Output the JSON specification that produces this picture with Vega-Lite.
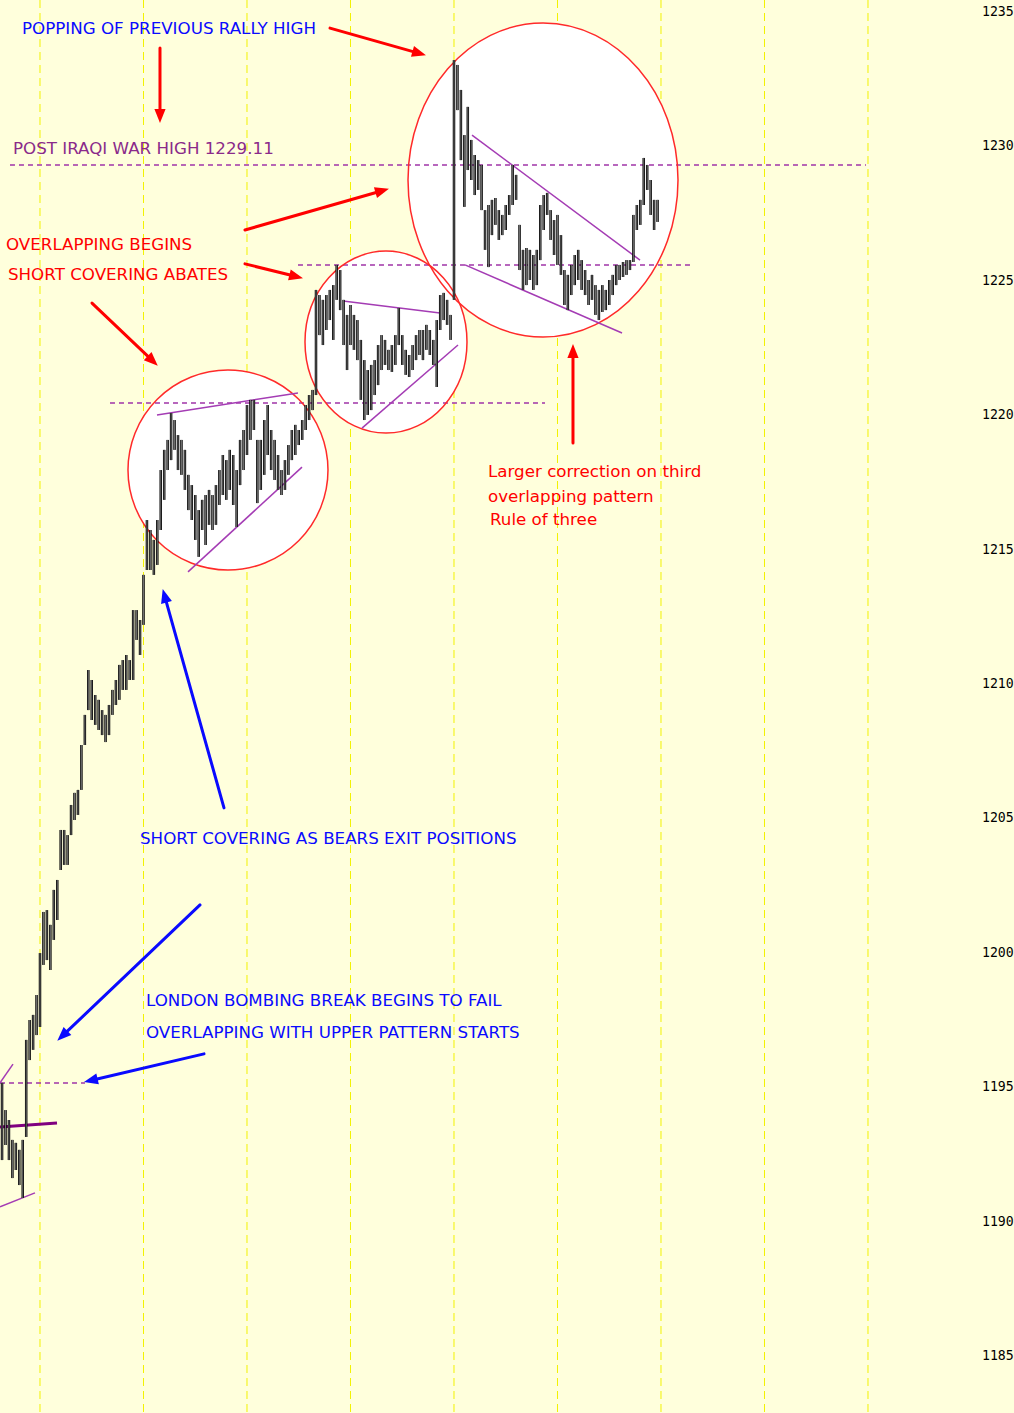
{
  "$schema": "https://vega.github.io/schema/vega-lite/v6.json",
  "width": 1014,
  "height": 1413,
  "autosize": "none",
  "padding": 0,
  "background": "#ffffdc",
  "config": {"view": {"stroke": null}},
  "datasets": {
    "bars": [
      {"i":-11,"h":1195.16,"l":1192.29},{"i":-10,"h":1194.15,"l":1192.85},{"i":-9,"h":1193.78,"l":1192.29},{"i":-8,"h":1193.04,"l":1191.62},
      {"i":-7,"h":1192.93,"l":1191.92},{"i":-6,"h":1192.67,"l":1191.36},{"i":-5,"h":1193.04,"l":1190.88},{"i":-4,"h":1196.76,"l":1193.15},
      {"i":-3,"h":1197.50,"l":1196.01},{"i":-2,"h":1197.69,"l":1196.39},{"i":-1,"h":1198.43,"l":1196.94},{"i":0,"h":1199.99,"l":1197.24},
      {"i":1,"h":1201.52,"l":1199.55},{"i":2,"h":1201.59,"l":1199.73},{"i":3,"h":1201.04,"l":1199.36},{"i":4,"h":1202.34,"l":1200.48},
      {"i":5,"h":1202.71,"l":1201.22},{"i":6,"h":1204.57,"l":1203.08},{"i":7,"h":1204.57,"l":1203.27},{"i":8,"h":1204.38,"l":1203.27},
      {"i":9,"h":1205.50,"l":1204.38},{"i":10,"h":1205.95,"l":1204.94},{"i":11,"h":1206.06,"l":1205.13},{"i":12,"h":1207.73,"l":1206.06},
      {"i":13,"h":1208.85,"l":1207.73},{"i":14,"h":1210.52,"l":1209.03},{"i":15,"h":1210.15,"l":1208.66},{"i":16,"h":1209.59,"l":1208.48},
      {"i":17,"h":1209.41,"l":1208.29},{"i":18,"h":1209.03,"l":1208.10},{"i":19,"h":1208.85,"l":1207.84},{"i":20,"h":1209.22,"l":1208.10},
      {"i":21,"h":1209.78,"l":1208.85},{"i":22,"h":1210.15,"l":1209.22},{"i":23,"h":1210.71,"l":1209.41},{"i":24,"h":1210.89,"l":1209.78},
      {"i":25,"h":1211.08,"l":1209.78},{"i":26,"h":1210.89,"l":1210.15},{"i":27,"h":1212.75,"l":1210.15},{"i":28,"h":1212.75,"l":1211.64},
      {"i":29,"h":1212.38,"l":1211.08},{"i":30,"h":1214.06,"l":1212.20},{"i":31,"h":1216.10,"l":1214.24},{"i":32,"h":1215.73,"l":1214.24},
      {"i":33,"h":1215.36,"l":1214.06},{"i":34,"h":1216.10,"l":1214.43},{"i":35,"h":1217.96,"l":1215.73},{"i":36,"h":1218.71,"l":1216.85},
      {"i":37,"h":1219.08,"l":1217.96},{"i":38,"h":1220.08,"l":1218.33},{"i":39,"h":1219.82,"l":1218.71},{"i":40,"h":1219.26,"l":1217.96},
      {"i":41,"h":1219.08,"l":1217.78},{"i":42,"h":1218.71,"l":1217.22},{"i":43,"h":1217.78,"l":1216.47},{"i":44,"h":1217.40,"l":1216.10},
      {"i":45,"h":1217.03,"l":1215.36},{"i":46,"h":1216.47,"l":1214.73},{"i":47,"h":1216.85,"l":1215.73},{"i":48,"h":1217.03,"l":1215.17},
      {"i":49,"h":1217.22,"l":1215.92},{"i":50,"h":1217.03,"l":1215.73},{"i":51,"h":1217.40,"l":1215.92},{"i":52,"h":1217.96,"l":1216.66},
      {"i":53,"h":1218.52,"l":1217.03},{"i":54,"h":1218.33,"l":1216.85},{"i":55,"h":1218.71,"l":1217.22},{"i":56,"h":1218.52,"l":1216.66},
      {"i":57,"h":1217.96,"l":1215.84},{"i":58,"h":1219.08,"l":1217.40},{"i":59,"h":1219.45,"l":1217.96},{"i":60,"h":1220.38,"l":1218.52},
      {"i":61,"h":1220.57,"l":1219.08},{"i":62,"h":1220.57,"l":1219.45},{"i":63,"h":1219.08,"l":1216.73},{"i":64,"h":1219.08,"l":1217.22},
      {"i":65,"h":1219.82,"l":1217.78},{"i":66,"h":1220.38,"l":1218.52},{"i":67,"h":1219.45,"l":1217.96},{"i":68,"h":1219.08,"l":1217.59},
      {"i":69,"h":1218.52,"l":1217.22},{"i":70,"h":1217.96,"l":1217.03},{"i":71,"h":1218.33,"l":1217.22},{"i":72,"h":1218.89,"l":1217.78},
      {"i":73,"h":1219.45,"l":1218.33},{"i":74,"h":1219.64,"l":1218.52},{"i":75,"h":1219.45,"l":1218.89},{"i":76,"h":1219.82,"l":1219.08},
      {"i":77,"h":1220.38,"l":1219.45},{"i":78,"h":1220.75,"l":1219.82},{"i":79,"h":1220.94,"l":1220.19},{"i":80,"h":1224.66,"l":1220.75},
      {"i":81,"h":1224.47,"l":1222.98},{"i":82,"h":1224.29,"l":1222.61},{"i":83,"h":1224.47,"l":1223.17},{"i":84,"h":1224.66,"l":1223.54},
      {"i":85,"h":1224.84,"l":1222.80},{"i":86,"h":1225.59,"l":1224.29},{"i":87,"h":1225.40,"l":1223.91},{"i":88,"h":1224.29,"l":1222.61},
      {"i":89,"h":1223.73,"l":1221.68},{"i":90,"h":1224.10,"l":1222.61},{"i":91,"h":1223.73,"l":1222.43},{"i":92,"h":1223.54,"l":1222.05},
      {"i":93,"h":1222.80,"l":1220.57},{"i":94,"h":1222.05,"l":1219.82},{"i":95,"h":1221.68,"l":1220.01},{"i":96,"h":1221.87,"l":1220.19},
      {"i":97,"h":1222.05,"l":1220.75},{"i":98,"h":1222.61,"l":1221.12},{"i":99,"h":1222.98,"l":1221.68},{"i":100,"h":1222.80,"l":1221.87},
      {"i":101,"h":1222.43,"l":1221.68},{"i":102,"h":1222.61,"l":1221.61},{"i":103,"h":1222.98,"l":1221.87},{"i":104,"h":1223.99,"l":1222.61},
      {"i":105,"h":1222.98,"l":1221.87},{"i":106,"h":1222.43,"l":1221.50},{"i":107,"h":1222.24,"l":1221.42},{"i":108,"h":1222.61,"l":1221.68},
      {"i":109,"h":1222.98,"l":1222.05},{"i":110,"h":1223.17,"l":1222.24},{"i":111,"h":1223.17,"l":1222.05},{"i":112,"h":1223.36,"l":1222.43},
      {"i":113,"h":1223.17,"l":1222.24},{"i":114,"h":1222.80,"l":1221.87},{"i":115,"h":1223.54,"l":1221.05},{"i":116,"h":1224.47,"l":1223.17},
      {"i":117,"h":1224.55,"l":1223.54},{"i":118,"h":1224.29,"l":1223.36},{"i":119,"h":1223.73,"l":1222.80},{"i":120,"h":1233.21,"l":1224.29},
      {"i":121,"h":1233.03,"l":1231.35},{"i":122,"h":1232.10,"l":1229.49},{"i":123,"h":1230.42,"l":1227.75},{"i":124,"h":1231.47,"l":1229.12},
      {"i":125,"h":1230.24,"l":1228.75},{"i":126,"h":1229.68,"l":1228.19},{"i":127,"h":1229.49,"l":1228.38},{"i":128,"h":1229.31,"l":1227.63},
      {"i":129,"h":1227.63,"l":1226.15},{"i":130,"h":1227.82,"l":1225.51},{"i":131,"h":1228.01,"l":1226.70},{"i":132,"h":1228.08,"l":1227.08},
      {"i":133,"h":1227.63,"l":1226.52},{"i":134,"h":1227.45,"l":1226.70},{"i":135,"h":1227.82,"l":1226.89},{"i":136,"h":1228.19,"l":1227.45},
      {"i":137,"h":1229.31,"l":1227.82},{"i":138,"h":1228.94,"l":1228.01},{"i":139,"h":1227.08,"l":1225.40},{"i":140,"h":1226.15,"l":1224.66},
      {"i":141,"h":1226.22,"l":1224.84},{"i":142,"h":1226.15,"l":1225.03},{"i":143,"h":1225.96,"l":1224.66},{"i":144,"h":1226.15,"l":1224.84},
      {"i":145,"h":1227.82,"l":1225.77},{"i":146,"h":1228.19,"l":1226.89},{"i":147,"h":1228.27,"l":1227.45},{"i":148,"h":1227.63,"l":1226.52},
      {"i":149,"h":1227.26,"l":1225.96},{"i":150,"h":1227.45,"l":1225.59},{"i":151,"h":1226.70,"l":1225.22},{"i":152,"h":1225.40,"l":1224.10},
      {"i":153,"h":1225.22,"l":1223.91},{"i":154,"h":1225.59,"l":1224.47},{"i":155,"h":1225.96,"l":1224.84},{"i":156,"h":1226.15,"l":1225.03},
      {"i":157,"h":1225.77,"l":1224.66},{"i":158,"h":1225.40,"l":1224.47},{"i":159,"h":1225.03,"l":1224.10},{"i":160,"h":1225.22,"l":1224.29},
      {"i":161,"h":1224.84,"l":1223.73},{"i":162,"h":1224.66,"l":1223.54},{"i":163,"h":1224.84,"l":1223.84},{"i":164,"h":1224.66,"l":1223.91},
      {"i":165,"h":1225.03,"l":1224.10},{"i":166,"h":1225.22,"l":1224.47},{"i":167,"h":1225.59,"l":1224.84},{"i":168,"h":1225.59,"l":1225.03},
      {"i":169,"h":1225.70,"l":1225.14},{"i":170,"h":1225.77,"l":1225.22},{"i":171,"h":1225.77,"l":1225.40},{"i":172,"h":1227.45,"l":1225.70},
      {"i":173,"h":1227.82,"l":1226.89},{"i":174,"h":1228.01,"l":1227.08},{"i":175,"h":1229.57,"l":1227.82},{"i":176,"h":1229.31,"l":1228.38},
      {"i":177,"h":1228.75,"l":1227.45},{"i":178,"h":1228.01,"l":1226.89},{"i":179,"h":1228.01,"l":1227.19}
    ],
    "grid": [{"i":0},{"i":30},{"i":60},{"i":90},{"i":120},{"i":150},{"i":180},{"i":210},{"i":240}],
    "priceTicks": [{"v":1185},{"v":1190},{"v":1195},{"v":1200},{"v":1205},{"v":1210},{"v":1215},{"v":1220},{"v":1225},{"v":1230},{"v":1235}],
    "levels": [
      {"i":-8.7,"i2":239.4,"p":1229.31},
      {"i":74.78,"i2":188.99,"p":1225.59},
      {"i":20.29,"i2":146.38,"p":1220.45},
      {"i":-11.59,"i2":13.04,"p":1195.16}
    ],
    "trends": [
      {"i":-11.59,"p":1190.55,"i2":-1.45,"p2":1191.07},
      {"i":-11.59,"p":1195.16,"i2":-7.83,"p2":1195.86},
      {"i":33.91,"p":1220.01,"i2":74.78,"p2":1220.83},
      {"i":42.9,"p":1214.17,"i2":75.94,"p2":1218.07},
      {"i":87.83,"p":1224.25,"i2":115.94,"p2":1223.80},
      {"i":93.33,"p":1219.52,"i2":121.16,"p2":1222.61},
      {"i":125.22,"p":1230.42,"i2":173.91,"p2":1225.77},
      {"i":123.19,"p":1225.59,"i2":168.7,"p2":1223.06}
    ],
    "support": [{"i":-11.59,"p":1193.52,"i2":4.93,"p2":1193.67}],
    "arrows": [
      {"i":84.06,"p":1234.40,"i2":109.92,"p2":1233.46,"dir":105.8,"s":"A"},
      {"i":34.78,"p":1233.66,"i2":34.78,"p2":1231.13,"dir":180,"s":"A"},
      {"i":59.42,"p":1226.89,"i2":99.19,"p2":1228.35,"dir":74,"s":"A"},
      {"i":59.42,"p":1225.63,"i2":74.26,"p2":1225.16,"dir":103.8,"s":"A"},
      {"i":15.07,"p":1224.17,"i2":32.67,"p2":1222.02,"dir":133.6,"s":"A"},
      {"i":154.49,"p":1218.97,"i2":154.49,"p2":1222.39,"dir":0,"s":"A"},
      {"i":53.33,"p":1205.39,"i2":36.12,"p2":1213.28,"dir":-15.6,"s":"B"},
      {"i":46.38,"p":1201.78,"i2":6.49,"p2":1196.91,"dir":226.4,"s":"B"},
      {"i":47.54,"p":1196.24,"i2":14.72,"p2":1195.25,"dir":256.8,"s":"B"}
    ],
    "notes": [
      {"i":-5.22,"p":1234.37,"t":"POPPING OF PREVIOUS RALLY HIGH","s":"B"},
      {"i":-7.83,"p":1229.90,"t":"POST IRAQI WAR HIGH 1229.11","s":"C"},
      {"i":-9.86,"p":1226.33,"t":"OVERLAPPING BEGINS","s":"A"},
      {"i":-9.28,"p":1225.22,"t":"SHORT COVERING ABATES","s":"A"},
      {"i":129.86,"p":1217.89,"t":"Larger correction on third","s":"A"},
      {"i":129.86,"p":1216.96,"t":"overlapping pattern","s":"A"},
      {"i":130.43,"p":1216.10,"t":"Rule of three","s":"A"},
      {"i":28.99,"p":1204.24,"t":"SHORT COVERING AS BEARS EXIT POSITIONS","s":"B"},
      {"i":30.72,"p":1198.21,"t":"LONDON BOMBING BREAK BEGINS TO FAIL","s":"B"},
      {"i":30.72,"p":1197.02,"t":"OVERLAPPING WITH UPPER PATTERN STARTS","s":"B"}
    ]
  },
  "layer": [
    {
      "data": {"name": "grid"},
      "mark": {"type": "rule", "color": "#f2f200", "strokeWidth": 1, "strokeDash": [8, 5]},
      "encoding": {
        "x": {"field": "i", "type": "quantitative", "scale": {"domain": [-11.594, 282.32], "nice": false, "zero": false}, "axis": null}
      }
    },
    {
      "data": {"values": [{"i": 54.49, "p": 1217.96}]},
      "mark": {"type": "point", "shape": "circle", "size": 40000, "filled": true, "fill": "#ffffff", "strokeWidth": 0, "opacity": 1},
      "encoding": {
        "x": {"field": "i", "type": "quantitative", "axis": null},
        "y": {"field": "p", "type": "quantitative", "scale": {"domain": [1182.88, 1235.446], "nice": false, "zero": false}, "axis": null}
      }
    },
    {
      "data": {"values": [{"i": 100.29, "p": 1222.72}]},
      "mark": {"type": "point", "shape": "M1,0C1,0.62 0.5523,1.123 0,1.123C-0.5523,1.123 -1,0.62 -1,0C-1,-0.62 -0.5523,-1.123 0,-1.123C0.5523,-1.123 1,-0.62 1,0Z", "size": 26244, "filled": true, "fill": "#ffffff", "strokeWidth": 0, "opacity": 1},
      "encoding": {
        "x": {"field": "i", "type": "quantitative", "axis": null},
        "y": {"field": "p", "type": "quantitative", "axis": null}
      }
    },
    {
      "data": {"values": [{"i": 145.8, "p": 1228.75}]},
      "mark": {"type": "point", "shape": "M1,0C1,0.642 0.5523,1.163 0,1.163C-0.5523,1.163 -1,0.642 -1,0C-1,-0.642 -0.5523,-1.163 0,-1.163C0.5523,-1.163 1,-0.642 1,0Z", "size": 72900, "filled": true, "fill": "#ffffff", "strokeWidth": 0, "opacity": 1},
      "encoding": {
        "x": {"field": "i", "type": "quantitative", "axis": null},
        "y": {"field": "p", "type": "quantitative", "axis": null}
      }
    },
    {
      "data": {"name": "levels"},
      "mark": {"type": "rule", "color": "#a035a8", "strokeWidth": 1.5, "strokeDash": [5, 4]},
      "encoding": {
        "x": {"field": "i", "type": "quantitative", "axis": null},
        "x2": {"field": "i2"},
        "y": {"field": "p", "type": "quantitative", "axis": null}
      }
    },
    {
      "data": {"values": [{"i": 54.49, "p": 1217.96}]},
      "mark": {"type": "point", "shape": "circle", "size": 40000, "filled": false, "stroke": "#ff2a2a", "strokeWidth": 1.5, "opacity": 1},
      "encoding": {
        "x": {"field": "i", "type": "quantitative", "axis": null},
        "y": {"field": "p", "type": "quantitative", "axis": null}
      }
    },
    {
      "data": {"values": [{"i": 100.29, "p": 1222.72}]},
      "mark": {"type": "point", "shape": "M1,0C1,0.62 0.5523,1.123 0,1.123C-0.5523,1.123 -1,0.62 -1,0C-1,-0.62 -0.5523,-1.123 0,-1.123C0.5523,-1.123 1,-0.62 1,0Z", "size": 26244, "filled": false, "stroke": "#ff2a2a", "strokeWidth": 1.5, "opacity": 1},
      "encoding": {
        "x": {"field": "i", "type": "quantitative", "axis": null},
        "y": {"field": "p", "type": "quantitative", "axis": null}
      }
    },
    {
      "data": {"values": [{"i": 145.8, "p": 1228.75}]},
      "mark": {"type": "point", "shape": "M1,0C1,0.642 0.5523,1.163 0,1.163C-0.5523,1.163 -1,0.642 -1,0C-1,-0.642 -0.5523,-1.163 0,-1.163C0.5523,-1.163 1,-0.642 1,0Z", "size": 72900, "filled": false, "stroke": "#ff2a2a", "strokeWidth": 1.5, "opacity": 1},
      "encoding": {
        "x": {"field": "i", "type": "quantitative", "axis": null},
        "y": {"field": "p", "type": "quantitative", "axis": null}
      }
    },
    {
      "data": {"name": "trends"},
      "mark": {"type": "rule", "color": "#a43cb4", "strokeWidth": 1.5},
      "encoding": {
        "x": {"field": "i", "type": "quantitative", "axis": null},
        "x2": {"field": "i2"},
        "y": {"field": "p", "type": "quantitative", "axis": null},
        "y2": {"field": "p2"}
      }
    },
    {
      "data": {"name": "support"},
      "mark": {"type": "rule", "color": "#800080", "strokeWidth": 3},
      "encoding": {
        "x": {"field": "i", "type": "quantitative", "axis": null},
        "x2": {"field": "i2"},
        "y": {"field": "p", "type": "quantitative", "axis": null},
        "y2": {"field": "p2"}
      }
    },
    {
      "data": {"name": "bars"},
      "mark": {"type": "rule", "color": "#000000", "strokeWidth": 2.5},
      "encoding": {
        "x": {"field": "i", "type": "quantitative", "axis": null},
        "y": {"field": "l", "type": "quantitative", "axis": null},
        "y2": {"field": "h"}
      }
    },
    {
      "data": {"name": "bars"},
      "mark": {"type": "rule", "color": "#8f8f8f", "strokeWidth": 0.8},
      "encoding": {
        "x": {"field": "i", "type": "quantitative", "axis": null},
        "y": {"field": "l", "type": "quantitative", "axis": null},
        "y2": {"field": "h"}
      }
    },
    {
      "data": {"name": "arrows"},
      "mark": {"type": "rule", "strokeWidth": 3, "strokeCap": "round"},
      "encoding": {
        "x": {"field": "i", "type": "quantitative", "axis": null},
        "x2": {"field": "i2"},
        "y": {"field": "p", "type": "quantitative", "axis": null},
        "y2": {"field": "p2"},
        "color": {"field": "s", "type": "nominal", "scale": {"domain": ["A", "B", "C"], "range": ["#ff0000", "#0a0aff", "#8a2a8a"]}, "legend": null}
      }
    },
    {
      "data": {"name": "arrows"},
      "mark": {"type": "point", "shape": "M0,-1L0.8,1L-0.8,1Z", "size": 196, "filled": true, "opacity": 1, "strokeWidth": 0},
      "encoding": {
        "x": {"field": "i2", "type": "quantitative", "axis": null},
        "y": {"field": "p2", "type": "quantitative", "axis": null},
        "angle": {"field": "dir", "type": "quantitative", "scale": null},
        "color": {"field": "s", "type": "nominal", "scale": {"domain": ["A", "B", "C"], "range": ["#ff0000", "#0a0aff", "#8a2a8a"]}, "legend": null}
      }
    },
    {
      "data": {"name": "notes"},
      "mark": {"type": "text", "align": "left", "baseline": "middle", "font": "DejaVu Sans", "fontSize": 16.7},
      "encoding": {
        "x": {"field": "i", "type": "quantitative", "axis": null},
        "y": {"field": "p", "type": "quantitative", "axis": null},
        "text": {"field": "t"},
        "color": {"field": "s", "type": "nominal", "scale": {"domain": ["A", "B", "C"], "range": ["#ff2020", "#2323ff", "#8a2a8a"]}, "legend": null}
      }
    },
    {
      "data": {"name": "priceTicks"},
      "mark": {"type": "text", "align": "left", "baseline": "middle", "font": "DejaVu Sans Mono", "fontSize": 13.2, "color": "#000000"},
      "encoding": {
        "x": {"datum": 273.04, "type": "quantitative", "axis": null},
        "y": {"field": "v", "type": "quantitative", "axis": null},
        "text": {"field": "v", "type": "quantitative", "format": "d"}
      }
    }
  ]
}
